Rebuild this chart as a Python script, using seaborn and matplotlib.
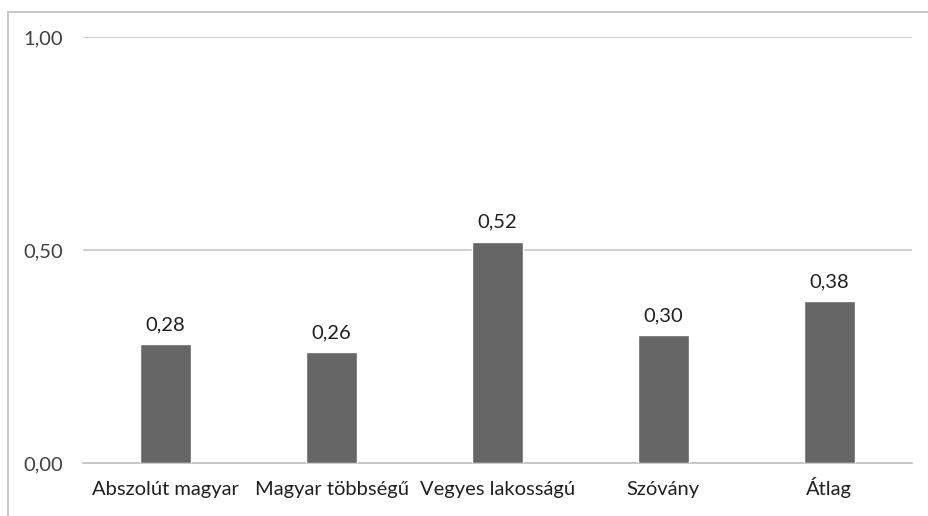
import matplotlib
matplotlib.use("Agg")
import matplotlib.pyplot as plt
import seaborn as sns
import pandas as pd
from matplotlib.patches import Rectangle

categories = ["Abszolút magyar", "Magyar többségű", "Vegyes lakosságú", "Szóvány", "Átlag"]
values = [0.28, 0.26, 0.52, 0.30, 0.38]
yticks = [0.0, 0.5, 1.0]
ytick_labels = ["0,00", "0,50", "1,00"]

df = pd.DataFrame({"category": categories, "value": values})

sns.set_style("white")
plt.rcParams["font.family"] = ["Lato", "DejaVu Sans"]

fig = plt.figure(figsize=(9.29, 5.16), dpi=100)
ax = fig.add_axes([0.089, 0.1027, 0.893, 0.8255])

sns.barplot(data=df, x="category", y="value", color="#666666", width=0.31,
            saturation=1, ax=ax, zorder=3)

fs = 14.5
ax.set_ylim(0, 1.0)
ax.set_yticks(yticks)
ax.set_yticklabels(ytick_labels, fontsize=fs, color="#404040")
ax.tick_params(axis="x", labelsize=fs, colors="#202020", length=0, pad=23)
for lbl in ax.get_xticklabels():
    lbl.set_verticalalignment("baseline")
ax.tick_params(axis="y", length=0, pad=14)
ax.set_xlabel("")
ax.set_ylabel("")
ax.grid(axis="y", color="#cccccc", linewidth=1.3, zorder=0)
for s in ["top", "right", "left"]:
    ax.spines[s].set_visible(False)
ax.spines["bottom"].set_color("#c4c4c4")
ax.spines["bottom"].set_linewidth(1.3)

for p, v in zip(ax.patches, values):
    ax.text(p.get_x() + p.get_width() / 2, v + 0.025, f"{v:.2f}".replace(".", ","),
            ha="center", va="bottom", fontsize=fs, color="#202020")

# outer chart frame
fig.patches.append(Rectangle((8 / 929, -0.01), 1.0, (516 - 12) / 516 + 0.01,
                             transform=fig.transFigure, fill=False,
                             edgecolor="#c8c8c8", linewidth=1.5))

fig.savefig("out.png", dpi=100)
